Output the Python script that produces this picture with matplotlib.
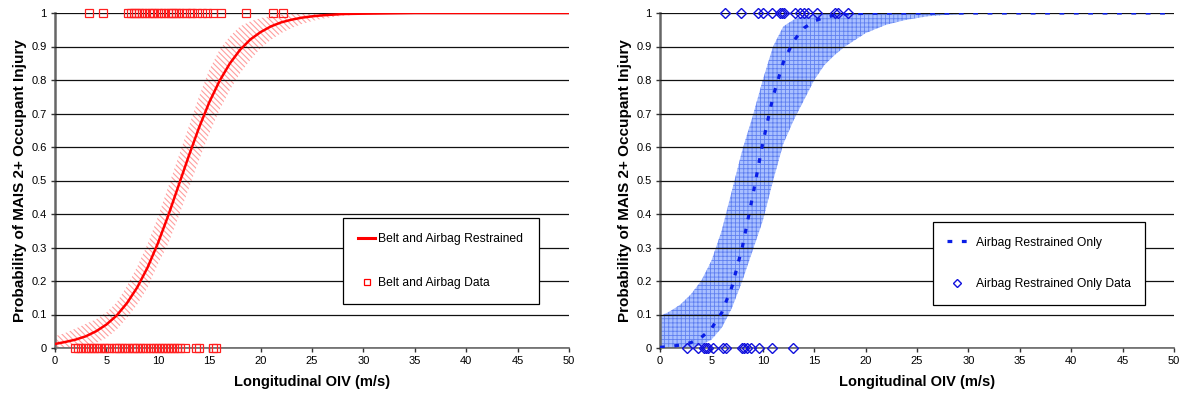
import matplotlib
matplotlib.use("Agg")
import matplotlib.pyplot as plt
from matplotlib.lines import Line2D

plt.rcParams['font.family'] = ['Liberation Sans', 'DejaVu Sans']

# ---------------- data: left panel (belt and airbag) ----------------
left_curve_x = [0, 1, 2, 3, 4, 5, 6, 7, 8, 9, 10, 11, 12, 13, 14, 15, 16, 17, 18, 19,
                20, 21, 22, 23, 24, 25, 26, 27, 28, 30, 35, 40, 45, 50]
left_curve_y = [0.012, 0.018, 0.025, 0.035, 0.050, 0.070, 0.097, 0.134, 0.181, 0.240,
                0.312, 0.394, 0.483, 0.572, 0.657, 0.733, 0.797, 0.849, 0.890, 0.921,
                0.943, 0.960, 0.972, 0.980, 0.986, 0.990, 0.993, 0.995, 0.997, 0.998,
                1.0, 1.0, 1.0, 1.0]
left_upper = [0.035, 0.045, 0.058, 0.072, 0.086, 0.106, 0.136, 0.185, 0.243, 0.31,
              0.39, 0.48, 0.57, 0.66, 0.75, 0.83, 0.89, 0.93, 0.96, 0.975,
              0.985, 0.991, 0.995, 0.997, 0.998, 0.999, 1.0, 1.0, 1.0, 1.0,
              1.0, 1.0, 1.0, 1.0]
left_lower = [0.0, 0.001, 0.003, 0.008, 0.015, 0.03, 0.055, 0.09, 0.13, 0.18,
              0.25, 0.31, 0.39, 0.475, 0.56, 0.64, 0.71, 0.77, 0.82, 0.86,
              0.895, 0.92, 0.94, 0.955, 0.967, 0.976, 0.983, 0.988, 0.992, 0.996,
              0.999, 1.0, 1.0, 1.0]
left_data_injured = [3.3, 4.7, 7.1, 7.4, 7.7, 7.9, 8.2, 8.5, 8.8, 9.1, 9.4, 9.6, 10.0,
                     10.3, 10.6, 11.0, 11.3, 11.5, 11.8, 12.1, 12.4, 12.7, 13.1, 13.3,
                     13.8, 14.3, 14.8, 15.4, 16.1, 18.6, 21.2, 22.2]
left_data_uninjured = [1.9, 2.2, 2.5, 2.9, 3.2, 3.5, 3.8, 4.1, 4.4, 4.8, 5.0, 5.3, 5.7,
                       5.9, 6.2, 6.5, 6.8, 7.1, 7.5, 7.7, 8.0, 8.3, 8.6, 8.9, 9.2, 9.5,
                       9.8, 10.1, 10.4, 10.7, 11.0, 11.3, 11.6, 11.9, 12.2, 12.6,
                       13.7, 14.0, 15.4, 15.7]

# ---------------- data: right panel (airbag only) ----------------
right_curve_x = [0, 1, 2, 3, 4, 5, 6, 7, 8, 9, 10, 11, 12, 13, 14, 15, 16, 17, 18, 19,
                 20, 22, 25, 30, 35, 40, 45, 50]
right_curve_y = [0.002, 0.0045, 0.009, 0.016, 0.031, 0.058, 0.105, 0.183, 0.300, 0.451,
                 0.612, 0.751, 0.853, 0.917, 0.955, 0.976, 0.987, 0.993, 0.997, 0.998,
                 0.999, 1.0, 1.0, 1.0, 1.0, 1.0, 1.0, 1.0]
right_band_x = [0, 1, 2, 3, 4, 5, 6, 7, 8, 9, 10, 11, 12, 13, 14, 15, 16, 17, 18, 19,
                20, 22, 24, 26, 28, 30, 35, 40, 45, 50]
right_upper = [0.095, 0.11, 0.13, 0.16, 0.20, 0.26, 0.35, 0.47, 0.59, 0.69,
               0.80, 0.90, 0.96, 0.98, 0.99, 0.995, 1.0, 1.0, 1.0, 1.0,
               1.0, 1.0, 1.0, 1.0, 1.0, 1.0, 1.0, 1.0, 1.0, 1.0]
right_lower = [0.0, 0.0, 0.0, 0.002, 0.008, 0.025, 0.06, 0.12, 0.20, 0.29,
               0.38, 0.50, 0.61, 0.68, 0.74, 0.80, 0.845, 0.875, 0.90, 0.92,
               0.94, 0.965, 0.98, 0.99, 0.995, 0.997, 0.999, 1.0, 1.0, 1.0]
right_data_injured = [6.3, 7.9, 9.5, 10.0, 10.9, 11.7, 11.9, 12.1, 13.1, 13.6, 14.0,
                      14.4, 15.3, 17.0, 17.3, 18.3]
right_data_uninjured = [2.6, 3.7, 4.3, 4.5, 4.7, 5.2, 6.1, 6.4, 8.0, 8.2, 8.5, 8.9,
                        9.6, 10.9, 12.9]

x_ticks = [0, 5, 10, 15, 20, 25, 30, 35, 40, 45, 50]
y_ticks = [0, 0.1, 0.2, 0.3, 0.4, 0.5, 0.6, 0.7, 0.8, 0.9, 1]
y_tick_labels = ['0', '0.1', '0.2', '0.3', '0.4', '0.5', '0.6', '0.7', '0.8', '0.9', '1']
x_label = 'Longitudinal OIV (m/s)'
y_label = 'Probability of MAIS 2+ Occupant Injury'

fig = plt.figure(figsize=(11.8, 3.95), dpi=100)
axL = fig.add_axes([55 / 1180, 47 / 395, 514 / 1180, 335 / 395])
axR = fig.add_axes([660 / 1180, 47 / 395, 514 / 1180, 335 / 395])


def style(ax):
    ax.set_xlim(0, 50)
    ax.set_ylim(0, 1)
    ax.set_xticks(x_ticks)
    ax.set_yticks(y_ticks)
    ax.set_yticklabels(y_tick_labels)
    ax.tick_params(axis='both', labelsize=8, direction='out', length=3, width=1,
                   color='#333333', pad=3)
    for s in ['top', 'right']:
        ax.spines[s].set_visible(False)
    ax.spines['left'].set_linewidth(1.8)
    ax.spines['left'].set_color('#666666')
    ax.spines['bottom'].set_linewidth(1.3)
    ax.spines['bottom'].set_color('#777777')
    ax.set_axisbelow(False)
    ax.yaxis.grid(True, color='#111111', linewidth=0.9)
    ax.set_xlabel(x_label, fontsize=10.5, fontweight='bold', labelpad=6)
    ax.set_ylabel(y_label, fontsize=11.0, fontweight='bold', labelpad=3)


# ---- left ----
plt.rcParams['hatch.linewidth'] = 0.8
axL.fill_between(left_curve_x, left_lower, left_upper, facecolor='none',
                 edgecolor=(1.0, 0.62, 0.62), linewidth=0, hatch='\\\\\\\\\\\\', zorder=1)
axL.plot(left_curve_x, left_curve_y, color='#ff0000', linewidth=1.8, zorder=3)
axL.plot(left_data_injured, [1] * len(left_data_injured), linestyle='none', marker='s',
         markersize=5.5, markerfacecolor='none', markeredgecolor='#ff2020',
         markeredgewidth=0.9, clip_on=False, zorder=4)
axL.plot(left_data_uninjured, [0] * len(left_data_uninjured), linestyle='none', marker='s',
         markersize=5.5, markerfacecolor='none', markeredgecolor='#ff2020',
         markeredgewidth=0.9, clip_on=False, zorder=4)
style(axL)
hL = [Line2D([], [], color='#ff0000', linewidth=2.2),
      Line2D([], [], linestyle='none', marker='s', markersize=4.5, markerfacecolor='none',
             markeredgecolor='#ff0000', markeredgewidth=0.9)]
legL = axL.legend(hL, ['Belt and Airbag Restrained', 'Belt and Airbag Data'],
                  loc='upper left', bbox_to_anchor=(0.56, 0.388), fontsize=8.7,
                  frameon=True, fancybox=False, shadow=False, framealpha=1,
                  edgecolor='#000000', borderpad=1.25, labelspacing=2.64,
                  handlelength=1.45, handletextpad=0.25, borderaxespad=0)
legL.get_frame().set_linewidth(0.9)
legL.set_zorder(6)

# ---- right ----
plt.rcParams['hatch.linewidth'] = 0.6
axR.fill_between(right_band_x, right_lower, right_upper, facecolor='#a9c0ff',
                 edgecolor='#6080f0', linewidth=0, hatch='++++', zorder=1)
axR.plot(right_curve_x, right_curve_y, color='#0a1ee6', linewidth=2.3,
         linestyle=(0, (1.5, 3.0)), dash_capstyle='butt', zorder=3)
axR.plot(right_data_injured, [1] * len(right_data_injured), linestyle='none', marker='D',
         markersize=5, markerfacecolor='none', markeredgecolor='#1010dd',
         markeredgewidth=1.0, clip_on=False, zorder=4)
axR.plot(right_data_uninjured, [0] * len(right_data_uninjured), linestyle='none', marker='D',
         markersize=5, markerfacecolor='none', markeredgecolor='#1010dd',
         markeredgewidth=1.0, clip_on=False, zorder=4)
style(axR)
hR = [Line2D([], [], color='#0a1ee6', linewidth=2.3, linestyle=(0, (1.5, 3.0)),
             dash_capstyle='butt'),
      Line2D([], [], linestyle='none', marker='D', markersize=4, markerfacecolor='none',
             markeredgecolor='#1010dd', markeredgewidth=1.0)]
legR = axR.legend(hR, ['Airbag Restrained Only', 'Airbag Restrained Only Data'],
                  loc='upper left', bbox_to_anchor=(0.531, 0.376), fontsize=8.7,
                  frameon=True, fancybox=False, shadow=False, framealpha=1,
                  edgecolor='#000000', borderpad=1.2, labelspacing=2.47,
                  handlelength=1.6, handletextpad=0.75, borderaxespad=0)
legR.get_frame().set_linewidth(0.9)
legR.set_zorder(6)

fig.savefig('out.png', dpi=100)
